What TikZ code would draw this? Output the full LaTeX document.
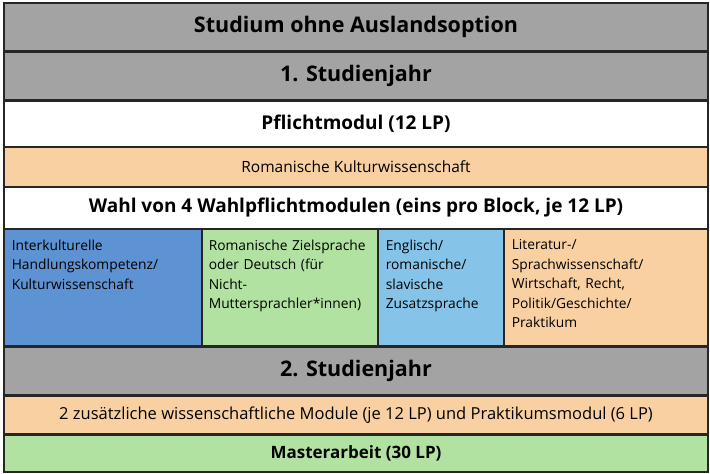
\documentclass[tikz,border=0pt]{standalone}
\usepackage{fontspec}
\setmainfont{Open Sans}
\usepackage{tikz}
\usetikzlibrary{positioning}
\definecolor{headgray}{HTML}{A3A3A3}
\definecolor{pastorange}{HTML}{F9D0A2}
\definecolor{pastgreen}{HTML}{B1E2A1}
\definecolor{midblue}{HTML}{5E93D3}
\definecolor{lightblue}{HTML}{86C3E8}
\tikzset{
  row/.style={draw=black!85, line width=2pt, minimum width=704pt, anchor=north west, inner sep=0pt},
  head/.style={row, fill=headgray, font=\bfseries\fontsize{21.5}{24}\selectfont},
  col/.style={draw=black!85, line width=1.6pt, anchor=north west, inner sep=0pt, minimum height=117pt, align=left,
    font=\fontsize{13.8}{19.4}\selectfont}
}
\begin{document}
\begin{tikzpicture}[x=1pt,y=-1pt]
\useasboundingbox (0,0) rectangle (710,474);
\node[head, minimum height=48pt] (titel) at (3,2) {Studium ohne Auslandsoption};
\node[head, minimum height=48pt] (jahr1) at (3,51) {1. Studienjahr};
\node[row, fill=white, minimum height=46pt, font=\bfseries\fontsize{19}{22}\selectfont] (pflicht) at (3,100) {Pflichtmodul (12 LP)};
\node[row, fill=pastorange, minimum height=40pt, font=\fontsize{15.5}{18}\selectfont] (kultur) at (3,146) {Romanische Kulturwissenschaft};
\node[row, fill=white, minimum height=42pt, font=\bfseries\fontsize{19}{22}\selectfont] (wahl) at (3,186) {Wahl von 4 Wahlpflichtmodulen (eins pro Block, je 12 LP)};
% Wahlpflichtbloecke
\node[col, fill=midblue, minimum width=198pt] (blockA) at (3,228) {};
\node[col, fill=pastgreen, minimum width=176pt] (blockB) at (201,228) {};
\node[col, fill=lightblue, minimum width=126pt] (blockC) at (377,228) {};
\node[col, fill=pastorange, minimum width=204pt] (blockD) at (503,228) {};
\node[col, draw=none, fill=none, minimum height=0pt, text width=185pt, anchor=north west] at ([xshift=8pt,yshift=-11pt]blockA.north west) {Interkulturelle\\Handlungskompetenz/\\Kulturwissenschaft};
\node[col, draw=none, fill=none, minimum height=0pt, text width=172pt, anchor=north west] at ([xshift=7pt,yshift=-11pt]blockB.north west) {Romanische Zielsprache\\oder Deutsch (für\\Nicht-\\Muttersprachler*innen)};
\node[col, draw=none, fill=none, minimum height=0pt, text width=115pt, anchor=north west] at ([xshift=8pt,yshift=-11pt]blockC.north west) {Englisch/\\romanische/\\slavische\\Zusatzsprache};
\node[col, draw=none, fill=none, minimum height=0pt, text width=195pt, anchor=north west] at ([xshift=8pt,yshift=-11pt]blockD.north west) {Literatur-/\\Sprachwissenschaft/\\Wirtschaft, Recht,\\Politik/Geschichte/\\Praktikum};
\node[head, minimum height=48pt] (jahr2) at (3,346) {2. Studienjahr};
\node[row, fill=pastorange, minimum height=38pt, font=\fontsize{16.5}{18}\selectfont] (zusatz) at (3,395) {2 zusätzliche wissenschaftliche Module (je 12 LP) und Praktikumsmodul (6 LP)};
\node[row, fill=pastgreen, minimum height=37pt, font=\bfseries\fontsize{17}{18}\selectfont] (master) at (3,434) {Masterarbeit (30 LP)};
\end{tikzpicture}
\end{document}
